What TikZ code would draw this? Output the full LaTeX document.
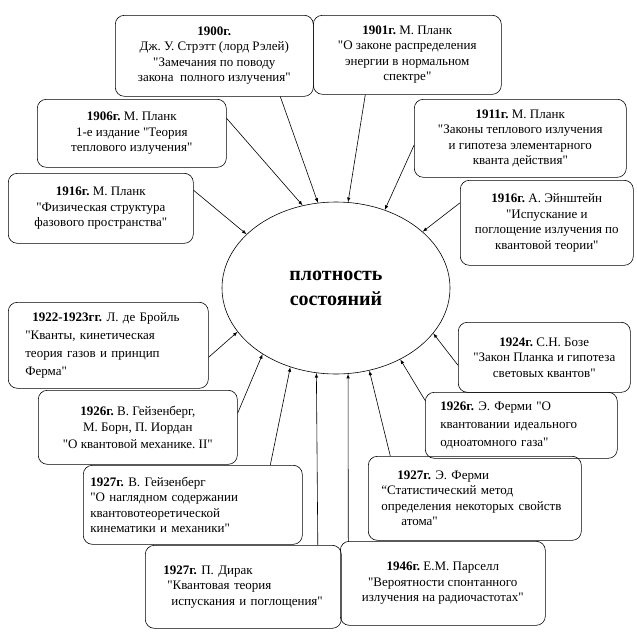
\documentclass[tikz,border=0pt]{standalone}
\usepackage{fontspec}
\setmainfont{Liberation Serif}[Ligatures=TeXOff]
\usetikzlibrary{shapes.geometric}
\frenchspacing

\begin{document}
\begin{tikzpicture}[x=1pt,y=-1pt,line width=0.6pt]
\tikzstyle{every node}+=[font=\fontsize{13}{15.5}\selectfont]
\tikzstyle{card}=[draw,rounded corners=9pt,inner sep=0pt,anchor=north west,align=center]
\tikzstyle{lcard}=[card,align=left]
\tikzstyle{feed}=[->,>=latex]
\useasboundingbox (0,0) rectangle (637,635);
% centre
\node [draw,ellipse,minimum width=228pt,minimum height=172pt,inner sep=0pt,align=center,
  font=\fontsize{20}{25}\selectfont\bfseries] (dos) at (336,288) {плотность\\состояний};
% upper boxes
\node [card,minimum width=198pt,minimum height=81pt] (b1900) at (115,15)
  {\textbf{1900г.}\\Дж. У. Стрэтт (лорд Рэлей)\\"Замечания по поводу\\закона\ \ полного излучения"};
\node [card,minimum width=188pt,minimum height=79pt] (b1901) at (313,15)
  {\textbf{1901г.} М. Планк\\"О законе распределения\\энергии в нормальном\\спектре"};
\node [card,minimum width=189pt,minimum height=68pt] (b1906) at (37,99)
  {\textbf{1906г.} М. Планк\\1-е издание "Теория\\теплового излучения"};
\node [card,minimum width=212pt,minimum height=78pt] (b1911) at (414,99)
  {\textbf{1911г.} М. Планк\\"Законы теплового излучения\\и гипотеза элементарного\\кванта действия"};
\node [card,minimum width=185pt,minimum height=70pt] (b1916p) at (8,173)
  {\textbf{1916г.} М. Планк\\"Физическая структура\\фазового пространства"};
\node [card,minimum width=173pt,minimum height=85pt] (b1916e) at (460,180)
  {\textbf{1916г.} А. Эйнштейн\\"Испускание и\\поглощение излучения по\\квантовой теории"};
% lower boxes
\node [lcard,minimum width=200pt,minimum height=86pt,inner xsep=17pt,text width=166pt,
  font=\fontsize{13}{18}\selectfont] (b1922) at (8,302)
  {\hspace{7pt}\textbf{1922-1923гг.} Л. де Бройль\\"Кванты, кинетическая\\теория газов и принцип\\Ферма"};
\node [card,minimum width=172pt,minimum height=70pt] (b1924) at (458,322)
  {\textbf{1924г.} С.Н. Бозе\\"Закон Планка и гипотеза\\световых квантов"};
\node [card,minimum width=199pt,minimum height=74pt,font=\fontsize{13}{16.5}\selectfont] (b1926h) at (38,390)
  {\textbf{1926г.} В. Гейзенберг,\\М. Борн, П. Иордан\\"О квантовой механике. II"};
\node [lcard,minimum width=192pt,minimum height=66pt,inner xsep=15pt,text width=162pt,
  font=\fontsize{13}{18}\selectfont] (b1926f) at (425,392)
  {\textbf{1926г.} Э. Ферми "О\\квантовании идеального\\одноатомного газа"};
\node [lcard,minimum width=219pt,minimum height=79pt,inner xsep=7pt,text width=205pt] (b1927h) at (83,465)
  {\textbf{1927г.} В. Гейзенберг\\"О наглядном содержании\\квантовотеоретической\\кинематики и механики"};
\node [lcard,minimum width=213pt,minimum height=84pt,inner xsep=13pt,text width=187pt] (b1927f) at (368,456)
  {\hspace{16pt}\textbf{1927г.} Э. Ферми\\“Статистический метод\\определения некоторых свойств\\\hspace{20pt}атома"};
\node [lcard,minimum width=196pt,minimum height=83pt,inner xsep=18pt,text width=160pt] (b1927d) at (145,545)
  {\textbf{1927г.} П. Дирак\\\hspace{4pt}"Квантовая теория\\\hspace{8pt}испускания и поглощения"};
\node [card,minimum width=205pt,minimum height=84pt] (b1946) at (340,541)
  {\textbf{1946г.} Е.М. Парселл\\"Вероятности спонтанного\\излучения на радиочастотах"};
% arrows
\draw [feed] ([xshift=66pt]b1900.south) -- (dos.102);
\draw [feed] ([xshift=-42pt]b1901.south) -- (dos.82);
\draw [feed] ([yshift=15pt]b1906.east) -- (dos.112);
\draw [feed] ([yshift=-7pt]b1911.west) -- (dos.58);
\draw [feed] ([yshift=18pt]b1916p.east) -- (dos.149);
\draw [feed] ([yshift=20pt]b1916e.west) -- (dos.33);
\draw [feed] ([yshift=-12pt]b1922.east) -- (dos.204);
\draw [feed] ([yshift=14pt]b1926h.east) -- (dos.222);
\draw [feed] ([xshift=77.5pt]b1927h.north) -- (dos.240);
\draw [feed] ([xshift=74.5pt]b1927d.north) -- (dos.257.5);
\draw [feed] ([xshift=-94.5pt]b1946.north) -- (dos.278);
\draw [feed] ([xshift=-84.5pt]b1927f.north) -- (dos.292.5);
\draw [feed] ([yshift=25pt]b1926f.west) -- (dos.312);
\draw [feed] ([yshift=-8pt]b1924.west) -- (dos.335);
\end{tikzpicture}
\end{document}
